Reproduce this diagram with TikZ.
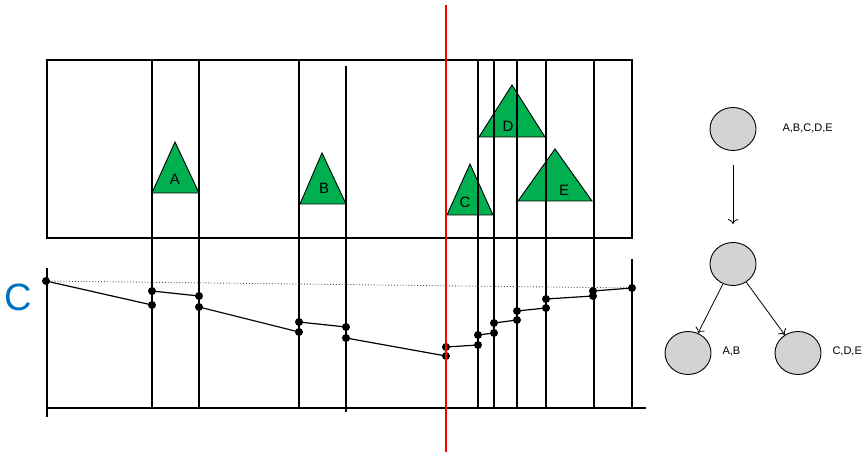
\documentclass[tikz,border=0pt]{standalone}
\usepackage{fontspec}
\setmainfont{Liberation Sans}
\usetikzlibrary{shapes.geometric,arrows.meta}
\definecolor{trigreen}{RGB}{0,176,80}
\definecolor{cblue}{RGB}{0,112,192}
\definecolor{nodegray}{RGB}{211,211,211}
\begin{document}
\begin{tikzpicture}[x=1pt,y=-1pt,>={To[length=5pt,width=10pt]},
  tri/.style={fill=trigreen,draw=black,line width=0.9pt,line join=miter},
  trilabel/.style={font=\fontsize{15}{17}\selectfont},
  treenode/.style={ellipse,draw=black,fill=nodegray,line width=0.9pt,minimum width=46pt,minimum height=43pt},
  treelabel/.style={font=\fontsize{11}{13}\selectfont,anchor=west}]
\useasboundingbox (0,0) rectangle (868,454);
% objects
\draw[tri] (152,193)--(175,142)--(199,193)--cycle;
\draw[tri] (300,204)--(322,153)--(346,204)--cycle;
\draw[tri] (447,215)--(470,164)--(493,215)--cycle;
\draw[tri] (479,137)--(512,85)--(545,137)--cycle;
\draw[tri] (518,201)--(555,149)--(592,201)--cycle;
\node[trilabel] (la) at (175,179) {A};
\node[trilabel] (lb) at (324,188) {B};
\node[trilabel] (lc) at (465,202) {C};
\node[trilabel] (ld) at (508,126) {D};
\node[trilabel] (le) at (564,190) {E};
% box and split lines
\draw[line width=2.8pt] (47,60) rectangle (632,238);
\foreach \x in {152,199,299,478,494,517,546,594}
  \draw[line width=2pt] (\x,60)--(\x,408);
\draw[line width=2pt] (346,66)--(346,412);
\draw[line width=2pt] (632,259)--(632,408);
% axes
\draw[line width=2pt] (47,268)--(47,417);
\draw[line width=2pt] (47,408)--(646,408);
\node[text=cblue,font=\fontsize{38}{42}\selectfont] (cost) at (18,297) {C};
% cost curve
\draw[dotted,gray!60!black,line width=0.9pt] (46,281)--(632,288);
\draw[line width=1.2pt] (46,281)--(152,305) (152,291)--(199,296) (199,307)--(299,332)
  (299,322)--(346,327) (346,338)--(446,356) (446,347)--(478,345) (478,335)--(494,333)
  (494,323)--(517,320) (517,311)--(546,308) (546,299)--(593,296) (593,291)--(632,288);
\foreach \x/\y in {46/281,152/291,152/305,199/296,199/307,299/322,299/332,346/327,346/338,
  446/347,446/356,478/335,478/345,494/323,494/333,517/311,517/320,546/299,546/308,
  593/291,593/296,632/288}
  \fill (\x,\y) circle (4pt);
% sweep line
\draw[red,line width=1.8pt] (446,5)--(446,452);
% tree
\node[treenode] (root) at (733,129) {};
\node[treenode] (mid) at (733,264) {};
\node[treenode] (left) at (688,353) {};
\node[treenode] (right) at (798,353) {};
\node[treelabel] at (779,128) {A,B,C,D,E};
\node[treelabel] at (719,351) {A,B};
\node[treelabel] at (829,351) {C,D,E};
\draw[->,line width=0.8pt] (733,165)--(733,224);
\draw[->,line width=0.8pt] (mid)--(left);
\draw[->,line width=0.8pt] (mid)--(right);
\end{tikzpicture}
\end{document}
